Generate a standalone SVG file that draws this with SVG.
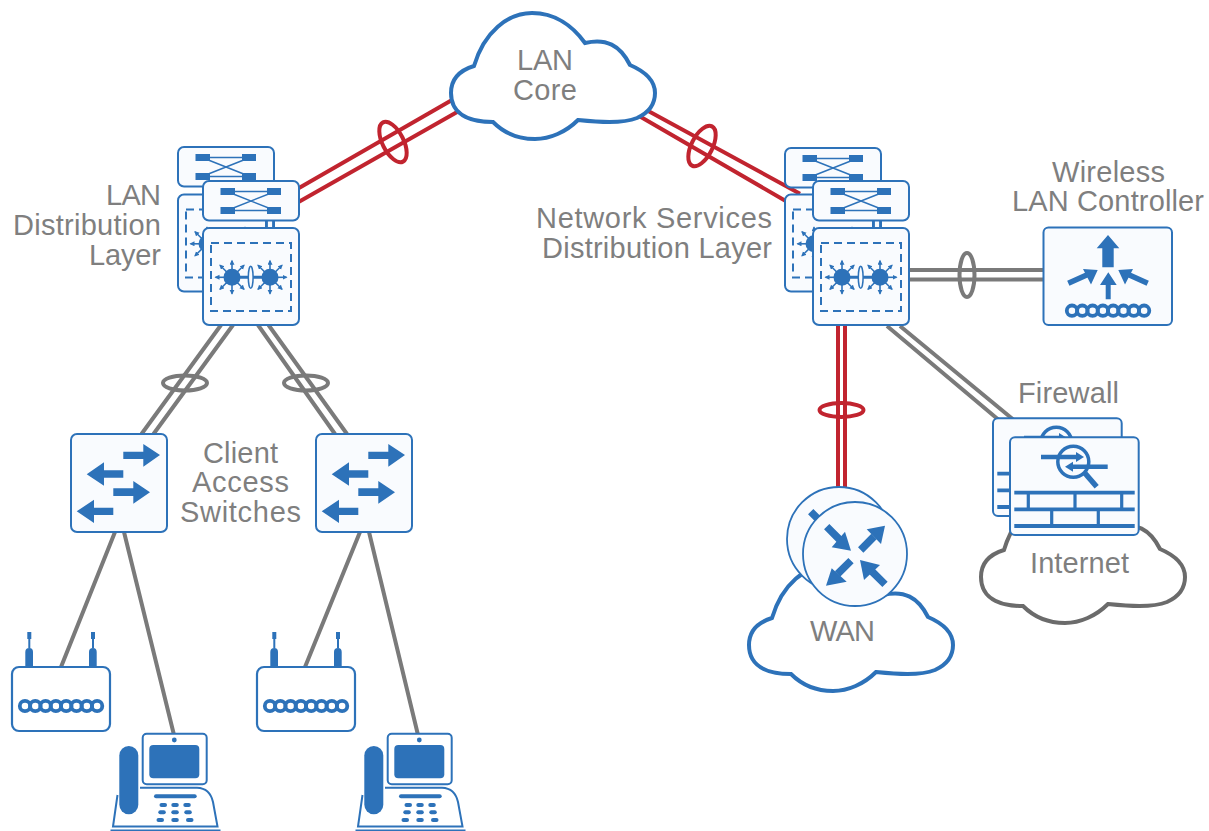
<svg xmlns="http://www.w3.org/2000/svg" xmlns:xlink="http://www.w3.org/1999/xlink" width="1209" height="831" viewBox="0 0 1209 831">
<style>
text{font-family:"Liberation Sans",Arial,sans-serif;font-size:29px;fill:#7f7f7f}
.box{fill:#f9fbfe;stroke:#2d72b9;stroke-width:2}
.fillb{fill:#2d72b9;stroke:none}
.lb{fill:none;stroke:#2d72b9}
.red{fill:none;stroke:#c1242f;stroke-width:4}
.gray{fill:none;stroke:#7a7a7a;stroke-width:4}
.cloud{fill:#fff;stroke:#2d72b9;stroke-width:4}
.cloudg{fill:#fff;stroke:#6b6b6b;stroke-width:4}
.spk{stroke:#2d72b9;stroke-width:1.6;fill:none;marker-end:url(#tip)}
.key{fill:#2d72b9}
</style>
<defs>
<marker id="tip" markerUnits="userSpaceOnUse" markerWidth="6" markerHeight="6" refX="4" refY="2.5" orient="auto"><path d="M0,0L5,2.5L0,5Z" fill="#2d72b9"/></marker>
<path id="cloudShape" d="M474,66C484,32 508,13 532,13C555,13 573,26 585,43C606,38 620,45 630,65C644,71 655,80 655,93C655,105 648,113 637,118C622,124 598,122 578,120C566,132 550,139 535,139C518,139 503,132 493,122C476,122 451,118 451,93C451,78 461,70 474,66Z"/>
<g id="helix" class="lb" stroke-width="3.800">
<circle cx="5" r="5.200"/><circle cx="15.300" r="5.200"/><circle cx="25.600" r="5.200"/><circle cx="35.900" r="5.200"/><circle cx="46.200" r="5.200"/><circle cx="56.500" r="5.200"/><circle cx="66.800" r="5.200"/><circle cx="77.100" r="5.200"/>
</g>
<g id="distTop">
<rect class="box" x="0" y="0" width="96" height="39.500" rx="6"/>
<g class="lb" stroke-width="1.500"><path d="M24,10.500H72M24,29.500H72M24,10.500L72,29.500M24,29.500L72,10.500"/></g>
<path class="fillb" d="M17.500,7H32V14H17.500ZM64,7H78V14H64ZM17.500,26H32V33H17.500ZM64,26H78V33H64Z"/>
</g>
<g id="spikes">
<path class="spk" d="M0,0V-16.500"/><path class="spk" d="M0,0V16.500"/>
<path class="spk" d="M0,0L-12,-12"/><path class="spk" d="M0,0L12,-12"/><path class="spk" d="M0,0L-12,12"/><path class="spk" d="M0,0L12,12"/>
</g>
<g id="distBottom">
<rect class="box" x="0" y="0" width="96" height="97" rx="6"/>
<rect x="8" y="15" width="80" height="68" fill="none" stroke="#2d72b9" stroke-width="2" stroke-dasharray="8 5"/>
<use href="#spikes" x="29" y="49.300"/><use href="#spikes" x="67" y="49.300"/>
<path class="spk" d="M29,49.300H12.500"/><path class="spk" d="M67,49.300H83.500"/>
<path class="lb" stroke-width="3" d="M29,49.300H67"/>
<ellipse cx="47.700" cy="49.300" rx="2.400" ry="11" fill="#f9fbfe" stroke="#2d72b9" stroke-width="1.500"/>
<circle class="fillb" cx="29" cy="49.300" r="8.500"/><circle class="fillb" cx="67" cy="49.300" r="8.500"/>
</g>
<g id="accessSwitch">
<rect class="box" x="0" y="0" width="96" height="98" rx="6"/>
<path class="fillb" d="M52.300,17.700H72.300V10L89,21L72.300,32.700V25H52.300Z"/>
<path class="fillb" d="M15.700,40.300L33,28.300V36.300H52.300V43.700H33V51.700Z"/>
<path class="fillb" d="M42.300,54.300H62.300V47L79,58.300L62.300,69.700V62H42.300Z"/>
<path class="fillb" d="M5.700,77.300L23,65.700V73.700H42.300V81H23V89Z"/>
</g>
<g id="ap">
<rect class="fillb" x="15.300" y="-35" width="4" height="7"/><rect class="fillb" x="16.300" y="-28" width="2" height="9"/>
<path class="fillb" d="M13.300,0V-15Q13.300,-19 17.300,-19Q21,-19 21,-15V0Z"/>
<rect class="fillb" x="79" y="-35" width="4" height="7"/><rect class="fillb" x="80" y="-28" width="2" height="9"/>
<path class="fillb" d="M77,0V-15Q77,-19 81,-19Q84.700,-19 84.700,-15V0Z"/>
<rect x="0" y="0" width="98" height="64" rx="7" fill="#fff" stroke="#2d72b9" stroke-width="2.200"/>
<use href="#helix" x="8" y="39"/>
</g>
<g id="phone">
<path class="lb" stroke-width="2" d="M140,787.700H197C205,788 211,793 213,802L217.500,826.500H113L117.500,795"/>
<path class="lb" stroke-width="2" d="M110.500,830.500H220.500"/>
<rect x="142.700" y="733.700" width="64" height="50.600" rx="4" fill="#fff" stroke="#2d72b9" stroke-width="2"/>
<circle class="fillb" cx="174.300" cy="740" r="2.400"/>
<rect class="fillb" x="149.300" y="745" width="50" height="33.300" rx="4"/>
<rect class="fillb" x="119.300" y="746" width="19" height="68.300" rx="9.500"/>
<rect class="key" x="154" y="794.300" width="42.700" height="4" rx="2"/>
<g class="key">
<rect x="159.500" y="803" width="7.500" height="4" rx="2"/><rect x="171.300" y="803" width="7.500" height="4" rx="2"/><rect x="183.300" y="803" width="7.500" height="4" rx="2"/>
<rect x="158.300" y="810.300" width="7.500" height="4" rx="2"/><rect x="171.300" y="810.300" width="7.500" height="4" rx="2"/><rect x="184.300" y="810.300" width="7.500" height="4" rx="2"/>
<rect x="156.500" y="818" width="7.500" height="4" rx="2"/><rect x="171.300" y="818" width="7.500" height="4" rx="2"/><rect x="186" y="818" width="7.500" height="4" rx="2"/>
</g>
</g>
<g id="router">
<circle cx="0" cy="0" r="52" fill="#f9fbfe" stroke="#2d72b9" stroke-width="1.800"/>
<path class="lb" stroke-width="7.500" d="M-28.300,-27.300L-14.500,-13.500M5.700,-4L19,-17.500M-4,6.700L-17.500,20M30,30.300L17,17.500"/>
<path class="fillb" d="M-4,-3.300L-10,-22.300L-23.300,-6.700Z"/>
<path class="fillb" d="M30,-28.300L11.700,-24.700L26,-10Z"/>
<path class="fillb" d="M-29,31.700L-23.300,14.300L-8.300,27.700Z"/>
<path class="fillb" d="M5,6L25,11L9,26Z"/>
</g>
<g id="firewall">
<rect class="box" x="0" y="0" width="128.700" height="97.700" rx="5"/>
<circle cx="63.300" cy="24.400" r="15.500" fill="none" stroke="#2d72b9" stroke-width="3.500"/>
<path class="lb" stroke-width="5.500" d="M75,36L86.700,49.400"/>
<path class="lb" stroke-width="4.500" d="M31,19.700H68M97.700,29.400H60"/>
<path class="fillb" d="M74,19.700L66,14.700V24.700ZM55,29.400L63,24.400V34.400Z"/>
<g class="lb" stroke-width="3.800"><path d="M4.300,55.400H124.700M4.300,72H124.700M4.300,88.700H124.700"/></g>
<g class="lb" stroke-width="3.200"><path d="M18.300,55.400V72M65,55.400V72M111.700,55.400V72M41.700,72V88.700M88.300,72V88.700"/></g>
</g>
</defs>

<g id="connectors">
<path class="red" d="M299,188L452,100M299,201.700L458,111.500"/>
<ellipse class="red" cx="393" cy="142" rx="10.500" ry="22" transform="rotate(-27 393 142)" stroke-width="3"/>
<path class="red" d="M640,106.400L800,193.700M640,116.500L787,201.700"/>
<ellipse class="red" cx="702" cy="146" rx="10.500" ry="22" transform="rotate(27 702 146)" stroke-width="3"/>
<path class="gray" d="M221,325L141.500,434M233,325L153.500,434"/>
<ellipse class="gray" cx="185" cy="383" rx="22" ry="7.500" stroke-width="3"/>
<path class="gray" d="M258,325L335,434M268.500,325L347,434"/>
<ellipse class="gray" cx="306" cy="383" rx="22" ry="7.500" stroke-width="3"/>
<path class="gray" d="M115,532L61,667M124,532L174,735M360,532L305,667M369,532L418,735"/>
<path class="gray" d="M909,270H1043M909,279.500H1043"/>
<ellipse class="gray" cx="967" cy="275" rx="7.500" ry="22" stroke-width="3"/>
<path class="gray" d="M887,326L1000,421M900,326L1015,421"/>
<path class="red" d="M838,325V490M845,325V490"/>
<ellipse class="red" cx="841.500" cy="410" rx="22" ry="7" stroke-width="3"/>
</g>

<g id="lan-core"><use href="#cloudShape" class="cloud"/><text x="517" y="70" textLength="56">LAN</text><text x="513" y="100" textLength="64">Core</text></g>

<g id="lan-distribution">
<use href="#distBottom" x="178" y="194.500"/><use href="#distTop" x="178" y="147"/>
<path class="lb" stroke-width="1.800" d="M267,220V228M273,220V228"/>
<use href="#distBottom" x="203" y="228"/><use href="#distTop" x="203" y="181"/>
</g>
<g id="lan-distribution-label"><text x="106" y="205" textLength="55">LAN</text><text x="13" y="235" textLength="148">Distribution</text><text x="89" y="265" textLength="72">Layer</text></g>

<g id="services-distribution">
<use href="#distBottom" x="785" y="194.500"/><use href="#distTop" x="785" y="148"/>
<path class="lb" stroke-width="1.800" d="M874,220V228M880,220V228"/>
<use href="#distBottom" x="813" y="228"/><use href="#distTop" x="813" y="181"/>
</g>
<g id="services-label"><text x="536" y="228" textLength="236">Network Services</text><text x="542" y="258" textLength="230">Distribution Layer</text></g>

<g id="wlc">
<rect class="box" x="1043.500" y="227.500" width="128.500" height="97.500" rx="5"/>
<path class="fillb" d="M1108,235L1119.300,248.300H1113.700V267.300H1102.300V248.300H1096.700Z"/>
<path class="fillb" d="M1108.300,272.300L1116.700,285H1110.700V299.300H1105.700V285H1100Z"/>
<path class="lb" stroke-width="5.500" d="M1068.300,283.300L1090,273.500M1147.700,283.300L1126,273.500"/>
<path class="fillb" d="M1097.700,270L1083,269L1091,284.500ZM1118.300,270L1133,269L1125,284.500Z"/>
<use href="#helix" x="1067" y="310.700"/>
<text x="1052" y="182" textLength="113">Wireless</text><text x="1012" y="211" textLength="192">LAN Controller</text>
</g>

<g id="internet"><use href="#cloudShape" class="cloudg" x="530" y="484"/><text x="1030" y="573" textLength="99">Internet</text></g>
<g id="firewall-node"><use href="#firewall" x="993" y="418.300"/><use href="#firewall" x="1010" y="437.300"/><text x="1018" y="403" textLength="101">Firewall</text></g>

<g id="wan"><use href="#cloudShape" class="cloud" x="298" y="552"/><text x="810" y="641" textLength="65">WAN</text></g>
<g id="wan-router"><use href="#router" x="839" y="539"/><use href="#router" x="855" y="554"/></g>

<g id="access-left"><use href="#accessSwitch" x="71" y="434"/></g>
<g id="access-right"><use href="#accessSwitch" x="316" y="434"/></g>
<g id="access-label"><text x="203" y="463" textLength="75">Client</text><text x="192" y="492" textLength="97">Access</text><text x="180" y="522" textLength="121">Switches</text></g>

<g id="ap-left"><use href="#ap" x="12" y="667"/></g>
<g id="ap-right"><use href="#ap" x="257" y="667"/></g>
<g id="phone-left"><use href="#phone"/></g>
<g id="phone-right"><use href="#phone" x="245"/></g>
</svg>
